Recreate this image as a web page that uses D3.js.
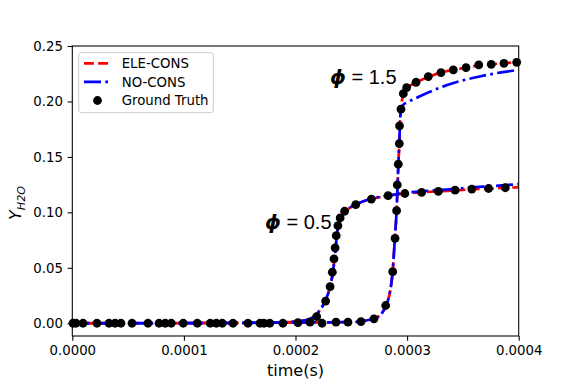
<!DOCTYPE html>
<html>
<head>
<meta charset="utf-8">
<script src="https://cdn.jsdelivr.net/npm/d3@7"></script>
<style>
  body { margin: 0; background: #fff; }
  svg { display: block; font-family: "DejaVu Sans", sans-serif; }
</style>
</head>
<body>
<div id="chart"></div>
<script>
// axis ticks
const xTicks = [0, 1e-4, 2e-4, 3e-4, 4e-4];
const yTicks = [0, 0.05, 0.10, 0.15, 0.20, 0.25];

// ELE-CONS (red dashed) for both cases, [time, Y_H2O]
const eleCons05 = [
    [0, 0], [1.0e-4, 0], [1.8e-4, 0.0005], [2.05e-4, 0.002], [2.15e-4, 0.005], [2.22e-4, 0.012],
    [2.27e-4, 0.021], [2.31e-4, 0.033], [2.335e-4, 0.046], [2.35e-4, 0.058], [2.36e-4, 0.068],
    [2.37e-4, 0.079], [2.385e-4, 0.088], [2.41e-4, 0.095], [2.45e-4, 0.101], [2.54e-4, 0.107],
    [2.68e-4, 0.112], [2.83e-4, 0.115], [2.98e-4, 0.117], [3.13e-4, 0.118], [3.28e-4, 0.119],
    [3.43e-4, 0.1198], [3.58e-4, 0.1207], [3.73e-4, 0.1214], [3.88e-4, 0.1222], [4.0e-4, 0.1225]
];
const eleCons15 = [
    [0, 0], [2.5e-4, 0.001], [2.7e-4, 0.004], [2.78e-4, 0.010], [2.82e-4, 0.018], [2.85e-4, 0.030],
    [2.87e-4, 0.046], [2.89e-4, 0.076], [2.905e-4, 0.100], [2.915e-4, 0.125], [2.922e-4, 0.144],
    [2.93e-4, 0.162], [2.935e-4, 0.178], [2.945e-4, 0.193], [2.965e-4, 0.206], [3.0e-4, 0.212],
    [3.08e-4, 0.217], [3.19e-4, 0.222], [3.3e-4, 0.226], [3.41e-4, 0.2285], [3.53e-4, 0.2305],
    [3.64e-4, 0.2325], [3.75e-4, 0.2335], [3.87e-4, 0.2345], [4.0e-4, 0.2355]
];

// NO-CONS (blue dash-dot)
const noCons05 = [
    [0, 0], [1.0e-4, 0], [1.8e-4, 0.0005], [2.05e-4, 0.002], [2.15e-4, 0.005], [2.22e-4, 0.012],
    [2.27e-4, 0.021], [2.31e-4, 0.033], [2.335e-4, 0.046], [2.35e-4, 0.058], [2.36e-4, 0.068],
    [2.37e-4, 0.079], [2.385e-4, 0.088], [2.41e-4, 0.095], [2.45e-4, 0.101], [2.54e-4, 0.107],
    [2.68e-4, 0.1122], [2.83e-4, 0.1152], [2.98e-4, 0.1175], [3.13e-4, 0.119], [3.28e-4, 0.120],
    [3.43e-4, 0.1212], [3.58e-4, 0.1225], [3.73e-4, 0.1235], [3.88e-4, 0.1245], [4.0e-4, 0.1255]
];
const noCons15 = [
    [0, 0], [2.5e-4, 0.001], [2.7e-4, 0.004], [2.78e-4, 0.010], [2.82e-4, 0.018], [2.85e-4, 0.030],
    [2.87e-4, 0.046], [2.89e-4, 0.076], [2.905e-4, 0.100], [2.915e-4, 0.125], [2.922e-4, 0.144],
    [2.93e-4, 0.162], [2.935e-4, 0.178], [2.945e-4, 0.193], [2.965e-4, 0.197], [3.0e-4, 0.199],
    [3.1e-4, 0.204], [3.2e-4, 0.2085], [3.35e-4, 0.2145], [3.5e-4, 0.219], [3.65e-4, 0.2225],
    [3.8e-4, 0.2255], [4.0e-4, 0.2285]
];

// Ground truth points
const truth05 = [
    [0.6e-6, 0], [9.6e-6, 0], [32.9e-6, 0], [43.6e-6, 0], [67.8e-6, 0], [83.3e-6, 0],
    [99.4e-6, 0], [123.6e-6, 0], [134.4e-6, 0], [157.4e-6, 0], [171.8e-6, 0], [188.7e-6, 0],
    [202.2e-6, 0.0005], [213e-6, 0.001], [2.19e-4, 0.006], [2.27e-4, 0.020], [2.31e-4, 0.033],
    [2.33e-4, 0.046], [2.345e-4, 0.058], [2.355e-4, 0.068], [2.365e-4, 0.079], [2.38e-4, 0.088],
    [2.40e-4, 0.095], [2.44e-4, 0.101], [2.54e-4, 0.107], [2.68e-4, 0.112], [2.83e-4, 0.115],
    [2.98e-4, 0.117], [3.13e-4, 0.118], [3.28e-4, 0.119], [3.43e-4, 0.120], [3.58e-4, 0.121],
    [3.73e-4, 0.1215], [3.88e-4, 0.1222]
];
const truth15 = [
    [3.3e-6, 0], [22.1e-6, 0], [38.3e-6, 0], [53.5e-6, 0], [77.7e-6, 0], [88.7e-6, 0],
    [112e-6, 0], [129e-6, 0], [144e-6, 0], [168.2e-6, 0], [177e-6, 0], [223.8e-6, 0],
    [236.3e-6, 0.001], [247e-6, 0.001], [258.7e-6, 0.0015], [270.3e-6, 0.004], [2.808e-4, 0.016],
    [2.871e-4, 0.0465], [2.892e-4, 0.0766], [2.906e-4, 0.1015], [2.912e-4, 0.1247],
    [2.921e-4, 0.1434], [2.930e-4, 0.162], [2.932e-4, 0.178], [2.945e-4, 0.193],
    [2.966e-4, 0.207], [2.996e-4, 0.2125], [3.08e-4, 0.2173], [3.19e-4, 0.2224],
    [3.304e-4, 0.226], [3.414e-4, 0.2284], [3.528e-4, 0.2305], [3.642e-4, 0.2329],
    [3.754e-4, 0.2335], [3.868e-4, 0.2344], [3.982e-4, 0.2353]
];

const width = 576, height = 384;
const plotLeft = 72.3, plotRight = 518.7, plotTop = 46, plotBottom = 336;

const svg = d3.select("#chart").append("svg")
    .attr("width", width)
    .attr("height", height);

const x = d3.scaleLinear().domain([0, 4e-4]).range([plotLeft, plotRight]);
const y = d3.scaleLinear().domain([-0.0115, 0.25]).range([plotBottom, plotTop]);

svg.append("clipPath").attr("id", "clip")
    .append("rect")
    .attr("x", plotLeft).attr("y", plotTop)
    .attr("width", plotRight - plotLeft).attr("height", plotBottom - plotTop);

const line = d3.line()
    .x(d => x(d[0]))
    .y(d => y(d[1]))
    .curve(d3.curveMonotoneX);

const plot = svg.append("g").attr("clip-path", "url(#clip)");

// red dashed first, blue dash-dot over it
[eleCons05, eleCons15].forEach(series => {
    plot.append("path")
        .datum(series)
        .attr("d", line)
        .attr("fill", "none")
        .attr("stroke", "#ff0000")
        .attr("stroke-width", 2.7)
        .attr("stroke-dasharray", "9.9,4.3");
});
[noCons05, noCons15].forEach(series => {
    plot.append("path")
        .datum(series)
        .attr("d", line)
        .attr("fill", "none")
        .attr("stroke", "#0000ff")
        .attr("stroke-width", 2.7)
        .attr("stroke-dasharray", "17,4.3,2.7,4.3");
});

const dots = svg.append("g");
[truth05, truth15].forEach(series => {
    dots.selectAll(null)
        .data(series)
        .enter().append("circle")
        .attr("cx", d => x(d[0]))
        .attr("cy", d => y(d[1]))
        .attr("r", 4.4)
        .attr("fill", "#000");
});

// axes
const xAxis = d3.axisBottom(x).tickValues(xTicks).tickFormat(d => d.toFixed(4))
    .tickSizeOuter(0).tickSize(4.7).tickPadding(4.7);
const yAxis = d3.axisLeft(y).tickValues(yTicks).tickFormat(d => d.toFixed(2))
    .tickSizeOuter(0).tickSize(4.7).tickPadding(4.7);

const gx = svg.append("g").attr("transform", `translate(0,${plotBottom})`).call(xAxis);
const gy = svg.append("g").attr("transform", `translate(${plotLeft},0)`).call(yAxis);
[gx, gy].forEach(g => {
    g.select(".domain").remove();
    g.selectAll("line").attr("stroke", "#000").attr("stroke-width", 1.07);
    g.selectAll("text")
        .attr("fill", "#000")
        .style("font-family", "DejaVu Sans")
        .style("font-size", "13.3px");
});

// frame
svg.append("rect")
    .attr("x", plotLeft).attr("y", plotTop)
    .attr("width", plotRight - plotLeft).attr("height", plotBottom - plotTop)
    .attr("fill", "none")
    .attr("stroke", "#000")
    .attr("stroke-width", 1.07);

// axis labels
svg.append("text")
    .attr("x", (plotLeft + plotRight) / 2)
    .attr("y", 376)
    .attr("text-anchor", "middle")
    .style("font-size", "16px")
    .text("time(s)");

const yl = svg.append("text")
    .attr("transform", "translate(21,203) rotate(-90)")
    .attr("text-anchor", "middle")
    .style("font-size", "16px")
    .style("font-style", "italic");
yl.append("tspan").text("Y");
yl.append("tspan").attr("dy", 3.5).style("font-size", "11.2px").text("H2O");

// phi annotations
function phiLabel(px, py, value) {
    const t = svg.append("text")
        .attr("x", px).attr("y", py)
        .style("font-family", "Liberation Sans, Arial, sans-serif")
        .style("font-size", "20px");
    t.append("tspan").style("font-style", "italic").style("font-weight", "bold")
        .style("font-family", "DejaVu Sans, sans-serif").text("ϕ");
    t.append("tspan").text(" = " + value);
}
phiLabel(330, 84, "1.5");
phiLabel(265, 228.5, "0.5");

// legend
const legend = svg.append("g");
legend.append("rect")
    .attr("x", 78.7).attr("y", 52.7)
    .attr("width", 134.6).attr("height", 60)
    .attr("rx", 2.5)
    .attr("fill", "#fff").attr("fill-opacity", 0.8)
    .attr("stroke", "#cccccc").attr("stroke-width", 1);

const legendItems = [
    { label: "ELE-CONS", type: "red" },
    { label: "NO-CONS", type: "blue" },
    { label: "Ground Truth", type: "dot" }
];
legendItems.forEach((item, i) => {
    const cy = 63.3 + i * 18.6;
    if (item.type === "red") {
        legend.append("line")
            .attr("x1", 84).attr("x2", 110).attr("y1", cy).attr("y2", cy)
            .attr("stroke", "#ff0000").attr("stroke-width", 2.7)
            .attr("stroke-dasharray", "9.9,4.3");
    } else if (item.type === "blue") {
        legend.append("line")
            .attr("x1", 84).attr("x2", 110).attr("y1", cy).attr("y2", cy)
            .attr("stroke", "#0000ff").attr("stroke-width", 2.7)
            .attr("stroke-dasharray", "17,4.3,2.7,4.3");
    } else {
        legend.append("circle")
            .attr("cx", 97.5).attr("cy", cy).attr("r", 4.4).attr("fill", "#000");
    }
    legend.append("text")
        .attr("x", 121.7).attr("y", cy)
        .attr("dy", "0.35em")
        .style("font-size", "13.3px")
        .text(item.label);
});
</script>
</body>
</html>
